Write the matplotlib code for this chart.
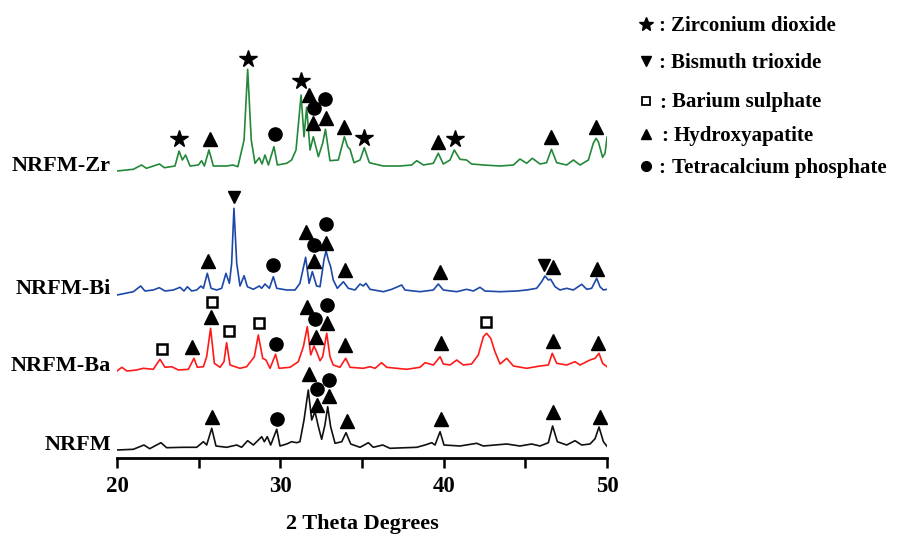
import matplotlib
matplotlib.use('Agg')
import matplotlib.pyplot as plt

# XRD traces: 2-theta (deg) and intensity above each trace's own baseline
zr_x = [20.0, 21.0, 21.5, 21.8, 22.6, 22.9, 23.55, 23.8, 24.0, 24.2, 24.47, 24.98, 25.18, 25.35, 25.63,
        25.9, 26.7, 27.1, 27.4, 27.78, 28.0, 28.22, 28.45, 28.71, 28.88, 29.06, 29.27, 29.61, 29.82,
        30.39, 30.69, 30.96, 31.27, 31.45, 31.61, 31.82, 32.02, 32.33, 32.59, 32.76, 33.04, 33.55,
        33.92, 34.12, 34.27, 34.51, 34.88, 35.14, 35.45, 36.3, 37.33, 38.04, 38.35, 38.76, 39.37,
        39.67, 39.98, 40.39, 40.65, 41.0, 41.4, 41.71, 42.43, 43.45, 44.27, 44.67, 45.08, 45.43,
        45.9, 46.3, 46.6, 46.92, 47.53, 47.94, 48.35, 48.86, 49.16, 49.33, 49.47, 49.73, 49.88, 50.0]
zr_y = [-1, 0.7, 5, 1.7, 6, 2.3, 4, 19, 10, 15, 4, 5, 9.3, 4, 20,
        4, 4, 5, 3.3, 30, 100.7, 30, 6.7, 12.3, 6, 15, 5, 23.3, 5,
        6.7, 10, 20, 75, 33.3, 62.7, 20, 33.3, 13.3, 26.7, 40.7, 9.3, 10,
        33.3, 23.3, 20.7, 7.3, 10, 22.3, 7.3, 4, 4, 5, 9.3, 5, 6.7,
        16.7, 6, 10, 20, 10.7, 10, 6, 5, 4, 5, 11, 6.7, 11.7,
        6, 7.3, 20.7, 7.3, 5, 10, 5, 10, 26.7, 31.7, 28.3, 12.7, 16.7, 32.7]

bi_x = [20.0, 21.0, 21.45, 21.71, 22.22, 22.59, 22.94, 23.45, 23.86, 24.1, 24.31, 24.57, 24.88, 25.14,
        25.29, 25.53, 25.76, 26.1, 26.41, 26.67, 26.88, 27.02, 27.16, 27.33, 27.53, 27.78, 27.98,
        28.35, 28.71, 28.86, 29.06, 29.33, 29.57, 29.78, 30.39, 30.9, 31.2, 31.55, 31.76, 31.96,
        32.22, 32.43, 32.67, 32.8, 32.94, 33.08, 33.24, 33.49, 33.86, 34.16, 34.57, 34.88, 35.08,
        35.24, 35.49, 36.31, 36.82, 37.43, 37.63, 38.55, 39.37, 39.67, 39.98, 40.8, 41.41, 41.82,
        42.22, 42.53, 43.45, 44.47, 45.08, 45.69, 46.0, 46.2, 46.41, 46.55, 46.82, 47.12, 47.53,
        47.94, 48.45, 48.76, 49.06, 49.37, 49.57, 49.78, 50.0]
bi_y = [-2, 1.3, 7, 2, 3, 5.3, 2, 3, 5.7, 2, 6.3, 2, 3, 7,
        4.7, 19.7, 4.7, 3, 4.7, 19.7, 9.7, 29.7, 84.7, 29.7, 7, 17.3, 6.3,
        3.7, 7, 4.7, 9, 4.7, 16.3, 4.7, 3, 3, 9.7, 35.7, 9.7, 21.3,
        7, 6.3, 33, 42.3, 33, 26.3, 13, 4.7, 11.3, 4.7, 3, 9, 7,
        9.7, 3.7, 1.3, 3.7, 8, 3, 1.3, 3, 9, 3, 1.3, 3.7, 2,
        5.7, 2, 1.3, 2, 3, 4.7, 11.3, 17, 13, 13.7, 6.3, 3, 4.7,
        3, 8.7, 3.7, 4.7, 14.7, 6.3, 3, 3.7]

ba_x = [20.0, 20.3, 20.6, 21.2, 21.6, 22.22, 22.63, 22.94, 23.35, 23.76, 24.37, 24.71, 24.92, 25.29,
        25.49, 25.73, 25.96, 26.31, 26.55, 26.71, 26.92, 27.53, 27.94, 28.41, 28.65, 28.92, 29.12,
        29.37, 29.71, 29.92, 30.59, 31.1, 31.41, 31.65, 31.86, 32.06, 32.22, 32.43, 32.59, 32.84,
        33.04, 33.24, 33.65, 34.0, 34.27, 35.08, 35.49, 35.8, 36.2, 36.51, 37.73, 38.55, 38.86,
        39.37, 39.78, 39.98, 40.39, 40.8, 41.2, 41.71, 42.12, 42.43, 42.63, 42.88, 43.14, 43.45,
        43.86, 44.27, 45.08, 45.9, 46.41, 46.65, 46.92, 47.53, 48.04, 48.35, 48.96, 49.27, 49.51,
        49.73, 50.0]
ba_y = [-1, 2.7, -1, 0, 1.7, 0.7, 10.7, 2.7, 3.3, 0, 0.7, 11.7, 2.7, 3.3,
        13.3, 41.7, 6.7, 2.7, 8.3, 27.3, 5, 1.7, 3.3, 13.3, 35, 11.7, 10,
        1.7, 15.7, 1.7, 2.7, 8.3, 23.3, 43.3, 15, 24, 18.3, 9.3, 13.3, 36.7,
        13.3, 5, 2.7, 11.7, 2.7, 1.7, 3.3, 1.7, 7.3, 2.7, 0.7, 2.7, 7.3,
        5, 13.3, 6, 5, 10, 5, 6, 15, 33.3, 36.7, 31.7, 18.3, 6,
        11.7, 4, 1.7, 4, 5, 16.7, 6.7, 5, 8.3, 5, 10, 11.7, 16.7,
        6.7, 3.3]

nr_x = [20.0, 21.0, 21.65, 22.0, 22.69, 23.04, 24.06, 24.88, 25.29, 25.49, 25.8, 26.06, 26.71, 27.33,
        27.63, 28.0, 28.35, 28.86, 29.02, 29.2, 29.41, 29.78, 29.98, 30.39, 30.69, 31.0, 31.2,
        31.45, 31.71, 31.92, 32.12, 32.33, 32.53, 32.73, 32.9, 33.08, 33.35, 33.76, 34.02, 34.31,
        34.88, 35.39, 35.69, 36.27, 36.71, 38.35, 38.86, 39.27, 39.47, 39.78, 40.02, 41.0, 42.02,
        42.43, 43.86, 44.67, 45.39, 45.9, 46.41, 46.67, 46.96, 47.53, 48.04, 48.45, 48.96, 49.27,
        49.51, 49.78, 50.0]
nr_y = [-1, -0.3, 4, 0.3, 6.3, 1.3, 1.7, 1.7, 7.3, 4, 20.7, 3, 1.7, 4,
        1.7, 8.3, 4, 12.3, 7.3, 12.3, 4, 19.7, 3, 5, 7.3, 6.3, 7.3,
        29, 59, 29, 37.3, 22.3, 9.7, 24, 42.3, 22.3, 5.7, 7.3, 16.3, 5,
        1.7, 6.3, 1.7, 4, 0.7, 1.7, 4, 6.3, 4, 17.3, 4, 3, 5.7,
        3, 5, 3, 5, 3, 6.3, 23, 7.3, 4, 8.3, 4, 5, 10.3,
        22, 7.3, 2.7]

# phase marks: (phase, 2-theta, height above baseline)
zr_marks = [('Z', 23.8, 30.7), ('H', 25.69, 30.7), ('Z', 28.04, 110.7), ('T', 29.67, 35.7),
            ('Z', 31.27, 89), ('H', 31.76, 75), ('T', 32.08, 62.3), ('T', 32.76, 70.7),
            ('H', 32.02, 47.3), ('H', 32.8, 51.7), ('H', 33.92, 42.7), ('Z', 35.14, 32.3),
            ('H', 39.67, 28.3), ('Z', 40.69, 30.7), ('H', 46.6, 32.7), ('H', 49.31, 42.7)]
bi_marks = [('B', 27.16, 96.3), ('H', 25.55, 32.3), ('T', 29.57, 28), ('H', 31.57, 61.3),
            ('T', 32.06, 48), ('H', 32.08, 32), ('T', 32.82, 69), ('H', 32.82, 49.7),
            ('H', 33.96, 23), ('H', 39.78, 21.3), ('B', 46.16, 28), ('H', 46.67, 25.7),
            ('H', 49.37, 23.7)]
ba_marks = [('S', 22.78, 20.7), ('H', 24.57, 23.3), ('S', 25.8, 68.3), ('H', 25.73, 52.7),
            ('S', 26.88, 39), ('S', 28.71, 47.3), ('T', 29.71, 26), ('H', 31.65, 63.3),
            ('T', 32.14, 50.7), ('T', 32.84, 65), ('H', 32.18, 32.7), ('H', 32.84, 46.7),
            ('H', 33.98, 25), ('H', 39.82, 26.7), ('S', 42.59, 47.7), ('H', 46.71, 29.3),
            ('H', 49.47, 26.7)]
nr_marks = [('H', 25.84, 32.3), ('T', 29.82, 29.7), ('H', 31.73, 75), ('T', 32.27, 59.7),
            ('T', 32.96, 69), ('H', 32.22, 44), ('H', 33.0, 53), ('H', 34.06, 28.3),
            ('H', 39.82, 29.7), ('H', 46.67, 37.3), ('H', 49.57, 32.3)]

sample_names = ['NRFM-Zr', 'NRFM-Bi', 'NRFM-Ba', 'NRFM']
phase_keys = ['Z', 'B', 'S', 'H', 'T']
phase_names = ['Zirconium dioxide', 'Bismuth trioxide', 'Barium sulphate',
               'Hydroxyapatite', 'Tetracalcium phosphate']

# vertical offsets of the stacked patterns
offsets = [288, 165, 88, 9]
colors = ['#23883a', '#1c48a8', '#ff1a1a', '#111111']

mstyle = {'Z': dict(marker='*', ms=13, mfc='black', mec='black'),
          'B': dict(marker='v', ms=9, mfc='black', mec='black'),
          'S': dict(marker='s', ms=7, mfc='white', mec='black', mew=1.8),
          'H': dict(marker='^', ms=10, mfc='black', mec='black'),
          'T': dict(marker='o', ms=9.5, mfc='black', mec='black')}
leg_style = {'Z': dict(marker='*', ms=10, mfc='black'), 'B': dict(marker='v', ms=7, mfc='black'),
             'S': dict(marker='s', ms=6, mfc='white', mew=1.3), 'H': dict(marker='^', ms=7, mfc='black'),
             'T': dict(marker='o', ms=7, mfc='black')}

plt.rcParams['font.family'] = ['Liberation Serif', 'DejaVu Serif']
plt.rcParams['font.weight'] = 'bold'

fig = plt.figure(figsize=(8.98, 5.34), dpi=100)
ax = fig.add_axes([117 / 898, 76 / 534, 490 / 898, 428 / 534])

traces = [(zr_x, zr_y, zr_marks), (bi_x, bi_y, bi_marks), (ba_x, ba_y, ba_marks), (nr_x, nr_y, nr_marks)]
for i, (xs, ys, marks) in enumerate(traces):
    off = offsets[i]
    ax.plot(xs, [v + off for v in ys], color=colors[i], lw=1.2)
    for ph, mx, my in marks:
        ax.plot([mx], [my + off], linestyle='none', clip_on=False, **mstyle[ph])
    ax.text(19.63, off + 4, sample_names[i], ha='right', va='center', fontsize=16,
            fontweight='bold', clip_on=False)

ax.set_xlim(20, 50)
ax.set_ylim(0, 428)
for s in ['top', 'right', 'left']:
    ax.spines[s].set_visible(False)
ax.spines['bottom'].set_linewidth(2)
ax.set_yticks([])
ax.set_xticks([20, 25, 30, 35, 40, 45, 50])
ax.set_xticklabels(['20', '', '30', '', '40', '', '50'])
ax.tick_params(axis='x', direction='out', length=7, width=1.8, labelsize=16.5, pad=6)
for lab in ax.get_xticklabels():
    lab.set_fontweight('bold')
ax.set_xlabel('2 Theta Degrees', fontsize=16, fontweight='bold', labelpad=12)

# phase key on the right (pixel positions from the top-left corner)
row_y = [24, 61, 100.5, 134, 166]
colon_x = [658.5, 658.5, 659.5, 661, 658.5]
name_x = [671, 671, 672, 674, 672]
for ph, name, py, cx, nx in zip(phase_keys, phase_names, row_y, colon_x, name_x):
    yf = (534 - py) / 534
    yb = (534 - py - 7) / 534
    st = dict(leg_style[ph])
    fig.add_artist(plt.Line2D([645.5 / 898], [yf], transform=fig.transFigure, linestyle='none',
                              color='black', mec='black', **st))
    fig.text(cx / 898, yb, ':', ha='left', va='baseline', fontsize=15, fontweight='bold')
    fig.text(nx / 898, yb, name, ha='left', va='baseline', fontsize=15, fontweight='bold')

fig.savefig('out.png', dpi=100)
